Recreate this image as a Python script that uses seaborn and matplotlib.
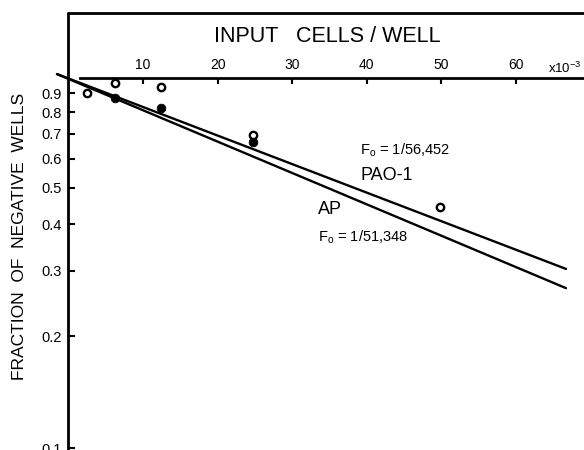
import numpy as np
import pandas as pd
import matplotlib
matplotlib.use("Agg")
import matplotlib.pyplot as plt
from matplotlib.lines import Line2D
from matplotlib.ticker import NullLocator
import seaborn as sns

# ---- data ----
x_open = [2.5, 6.2, 12.4, 24.8, 49.8]          # PAO-1 (open circles), cells/well x10^-3
y_open = [0.90, 0.958, 0.934, 0.694, 0.444]
x_filled = [6.2, 12.4, 24.8]                   # AP (filled circles)
y_filled = [0.873, 0.820, 0.665]
pao_line_x = [-1.53, 66.7]                     # fitted line PAO-1
pao_line_y = [1.012, 0.303]
ap_line_x = [-1.53, 66.7]                      # fitted line AP
ap_line_y = [1.012, 0.269]
x_ticks = [10, 20, 30, 40, 50, 60]
x_ticklabels = ["10", "20", "30", "40", "50", "60"]
y_ticks = [0.1, 0.2, 0.3, 0.4, 0.5, 0.6, 0.7, 0.8, 0.9]
y_ticklabels = ["0.1", "0.2", "0.3", "0.4", "0.5", "0.6", "0.7", "0.8", "0.9"]

sns.set_style("white")
FONT = ["Liberation Sans Narrow", "Liberation Sans", "DejaVu Sans"]
plt.rcParams["font.family"] = FONT
plt.rcParams["text.color"] = "black"
plt.rcParams["axes.labelcolor"] = "black"
plt.rcParams["xtick.color"] = "black"
plt.rcParams["ytick.color"] = "black"

W, H = 584, 450
fig = plt.figure(figsize=(W / 100, H / 100), dpi=100)

x0px, px_per_unit = 68.4, 7.46
ytop_px, ybot_px = 78, 450
def yval(py):
    return 10 ** ((448 - py) / 372 - 1)

ax = fig.add_axes([x0px / W, 0, (W - x0px) / W, (H - ytop_px) / H])
ax.set_yscale("log")

pao = pd.DataFrame({"x": pao_line_x, "y": pao_line_y})
ap = pd.DataFrame({"x": ap_line_x, "y": ap_line_y})
sns.lineplot(data=pao, x="x", y="y", ax=ax, color="black", lw=1.7, clip_on=False)
sns.lineplot(data=ap, x="x", y="y", ax=ax, color="black", lw=1.7, clip_on=False)

sns.scatterplot(x=x_open, y=y_open, ax=ax, marker="o", s=28, color="white",
                edgecolor="black", linewidth=1.7, zorder=5, clip_on=False)
sns.scatterplot(x=x_filled, y=y_filled, ax=ax, marker="o", s=40, color="black",
                edgecolor="black", linewidth=0.5, zorder=5, clip_on=False)

ax.set_xlim(0, (W - x0px) / px_per_unit)
ax.set_ylim(yval(ybot_px), yval(ytop_px))

# axes styling
for s in ["bottom", "right"]:
    ax.spines[s].set_visible(False)
ax.spines["left"].set_linewidth(2.0)
ax.spines["left"].set_color("black")
ax.spines["top"].set_linewidth(2.0)
ax.spines["top"].set_color("black")
ax.spines["top"].set_bounds(1.55, (W - x0px) / px_per_unit)
ax.xaxis.tick_top()
ax.set_xticks(x_ticks)
ax.set_xticklabels(x_ticklabels, fontsize=10)
ax.set_yticks(y_ticks)
ax.set_yticklabels(y_ticklabels, fontsize=10.5)
ax.yaxis.set_minor_locator(NullLocator())
ax.tick_params(axis="x", direction="in", length=4, width=1.5, pad=4, top=True, bottom=False)
ax.tick_params(axis="y", direction="in", length=5, width=1.5, pad=5, left=True)
ax.set_xlabel("")
ax.set_ylabel("")

# frame box above the axis
fig.add_artist(Line2D([x0px / W, x0px / W], [1 - 78 / H, 1 - 13 / H], color="black", lw=2.0))
fig.add_artist(Line2D([x0px / W - 0.001, 1.0], [1 - 13 / H, 1 - 13 / H], color="black", lw=2.0))

# texts
fig.text(327 / W, 1 - 36.5 / H, "INPUT   CELLS / WELL", ha="center", va="center", fontsize=15.5)
fig.text(548 / W, 1 - 68 / H, r"x10$^{\mathregular{-3}}$", ha="left", va="center", fontsize=9.5)
fig.text(20 / W, 1 - 236 / H, "FRACTION  OF  NEGATIVE  WELLS", rotation=90,
         ha="center", va="center", fontsize=12.5)
fig.text(360 / W, 1 - 150 / H, r"F$_\mathregular{o}$ = 1/56,452", ha="left", va="center", fontsize=10.5)
fig.text(360 / W, 1 - 175 / H, "PAO-1", ha="left", va="center", fontsize=13)
fig.text(318 / W, 1 - 210 / H, "AP", ha="left", va="center", fontsize=13)
fig.text(318 / W, 1 - 237 / H, r"F$_\mathregular{o}$ = 1/51,348", ha="left", va="center", fontsize=10.5)

fig.savefig("out.png", dpi=100)
